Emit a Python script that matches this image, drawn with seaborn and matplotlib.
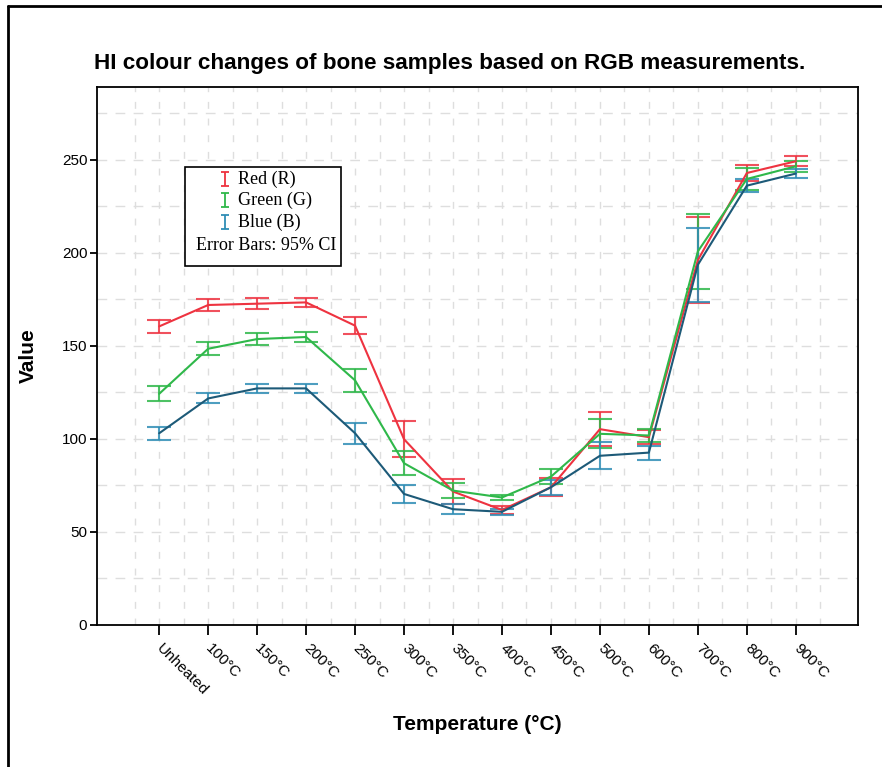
import numpy as np
import pandas as pd
import seaborn as sns
import matplotlib.pyplot as plt
from matplotlib.lines import Line2D
from matplotlib.patches import Rectangle
from matplotlib.path import Path
from matplotlib.ticker import MultipleLocator

# Values (mean and 95% CI half-width)
categories = ["Unheated", "100°C", "150°C", "200°C", "250°C", "300°C", "350°C",
              "400°C", "450°C", "500°C", "600°C", "700°C", "800°C", "900°C"]
red_mean = [160.4, 171.9, 172.6, 173.3, 160.8, 99.8, 71.7, 61.8, 74.0, 105.2, 100.9, 196.0, 242.8, 249.1]
red_ci = [3.4, 3.2, 3.0, 2.5, 4.7, 9.8, 6.5, 2.0, 4.8, 9.3, 3.7, 23.0, 4.5, 2.7]
green_mean = [124.2, 148.4, 153.6, 154.7, 131.4, 86.9, 72.2, 68.5, 79.7, 102.7, 101.8, 200.7, 239.6, 246.4]
green_ci = [4.0, 3.4, 3.0, 2.5, 6.2, 6.5, 4.0, 1.4, 4.2, 7.8, 3.7, 20.0, 6.0, 2.9]
blue_mean = [103.0, 121.7, 127.1, 127.1, 103.0, 70.4, 62.2, 60.8, 74.0, 90.9, 92.6, 193.5, 236.0, 242.5]
blue_ci = [3.4, 2.7, 2.5, 2.5, 5.7, 5.0, 2.8, 1.5, 4.0, 7.3, 3.8, 20.0, 3.6, 2.4]
series_names = ["Red (R)", "Green (G)", "Blue (B)"]

line_colors = {"Red (R)": "#ee3340", "Green (G)": "#2fb84a", "Blue (B)": "#1d5a78"}
bar_colors = {"Red (R)": "#ee3340", "Green (G)": "#2fb84a", "Blue (B)": "#2f8db5"}

pos = np.arange(len(categories))
df = pd.concat([
    pd.DataFrame({"pos": pos, "Value": m, "ci": c, "Channel": n})
    for n, m, c in zip(series_names, [red_mean, green_mean, blue_mean], [red_ci, green_ci, blue_ci])
])

sns.set_style("white")
plt.rcParams["font.family"] = ["Liberation Sans", "DejaVu Sans"]
plt.rcParams["text.color"] = "black"
plt.rcParams["axes.labelcolor"] = "black"
plt.rcParams["xtick.color"] = "black"
plt.rcParams["ytick.color"] = "black"

fig = plt.figure(figsize=(8.82, 7.67), dpi=100)
ax = fig.add_axes([97 / 882, 1 - 625 / 767, 761 / 882, 538 / 767])

# lines
sns.lineplot(data=df, x="pos", y="Value", hue="Channel", palette=line_colors,
             hue_order=series_names, errorbar=None, linewidth=1.5, legend=False,
             ax=ax, zorder=3)

# error bars
for name in series_names:
    sub = df[df["Channel"] == name]
    ax.errorbar(sub["pos"], sub["Value"], yerr=sub["ci"], fmt="none",
                ecolor=bar_colors[name], elinewidth=1.5, capsize=8.5,
                capthick=1.5, alpha=0.85, zorder=2)

ax.set_xlim(-1.27, 14.27)
ax.set_ylim(0, 289)
ax.set_xticks(pos)
ax.set_xticklabels(categories, rotation=-45, ha="left", va="center",
                   rotation_mode="anchor", fontsize=11)
ax.xaxis.set_minor_locator(MultipleLocator(0.5))
ax.yaxis.set_major_locator(MultipleLocator(50))
ax.yaxis.set_minor_locator(MultipleLocator(25))
ax.tick_params(axis="y", which="major", direction="out", length=5, width=1.3, labelsize=11, left=True, pad=2)
ax.tick_params(axis="x", which="major", direction="out", length=7, width=1.3, pad=8, bottom=True)
ax.tick_params(which="minor", length=0)

# dashed grid (vertical lines at half categories only inside the data range)
ax.grid(False)
for x in np.arange(-0.5, 13.51, 0.5):
    ax.axvline(x, color="#dedede", linewidth=1, linestyle=(0, (5, 7)), zorder=0)
for y in np.arange(25, 289, 25):
    ax.axhline(y, color="#dedede", linewidth=1, linestyle=(0, (7, 6)), zorder=0)

for s in ax.spines.values():
    s.set_color("black")
    s.set_linewidth(1.3)

ax.set_xlabel("Temperature (°C)", fontsize=15, fontweight="bold")
ax.set_ylabel("Value", fontsize=15, fontweight="bold")
ax.xaxis.set_label_coords(0.5, -0.168)
ax.yaxis.set_label_coords(-(97 - 38) / 761, 0.5)

fig.text(450 / 882, 1 - 63 / 767, "HI colour changes of bone samples based on RGB measurements.",
         ha="center", va="center", fontsize=16.2, fontweight="bold")

# legend box, drawn by hand so the "Error Bars" note sits inside it
fig.add_artist(Rectangle((185 / 882, 1 - 266 / 767), 156 / 882, 99 / 767,
                         transform=fig.transFigure, fill=True, facecolor="white",
                         edgecolor="black", linewidth=1.2, zorder=5))
ibar = Path([(-0.25, -0.5), (0.25, -0.5), (0, -0.5), (0, 0.5), (-0.25, 0.5), (0.25, 0.5)],
            [Path.MOVETO, Path.LINETO, Path.MOVETO, Path.LINETO, Path.MOVETO, Path.LINETO])
row_y = [179, 200, 222]
for name, yy in zip(series_names, row_y):
    fig.add_artist(Line2D([225 / 882], [1 - yy / 767], marker=ibar, markersize=10.5,
                          markerfacecolor="none", markeredgecolor=bar_colors[name],
                          markeredgewidth=1.3, linestyle="none",
                          transform=fig.transFigure, zorder=6))
    fig.text(238 / 882, 1 - yy / 767, name, ha="left", va="center",
             fontsize=13, family="Liberation Serif", zorder=6)
fig.text(196 / 882, 1 - 245 / 767, "Error Bars: 95% CI", ha="left", va="center",
         fontsize=13, family="Liberation Serif", zorder=6)

# outer frame
fig.add_artist(Line2D([8 / 882, 8 / 882], [0, 1 - 6 / 767], color="black", linewidth=2,
                      transform=fig.transFigure))
fig.add_artist(Line2D([8 / 882, 1], [1 - 6 / 767, 1 - 6 / 767], color="black", linewidth=2,
                      transform=fig.transFigure))

fig.savefig("out.png", dpi=100)
